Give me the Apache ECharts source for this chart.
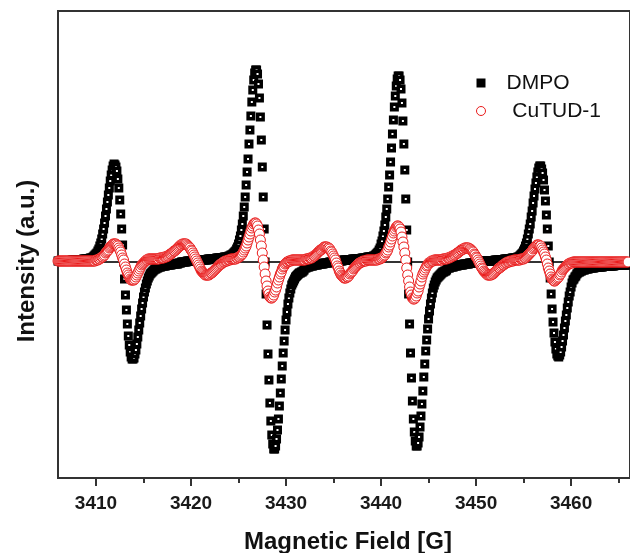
<!DOCTYPE html>
<html>
<head>
<meta charset="utf-8">
<title>EPR spectrum</title>
<script src="https://cdn.jsdelivr.net/npm/echarts@6/dist/echarts.min.js"></script>
<style>
html, body { margin: 0; padding: 0; background: #fff; }
#chart { width: 630px; height: 553px; }
</style>
</head>
<body>
<div id="chart"></div>
<script>
// field sweep starts at 3406.0 G, one reading every 0.1 G
const fieldStart = 3406.0;
const fieldStep = 0.1;

// DMPO, intensity in a.u. (one row = 1 G)
const dmpo = [
  1,1,1,1,1,1,1,1,1,1,
  1,1,1,1,1,2,2,2,2,2,
  2,2,2,2,2,2,2,3,3,3,
  3,3,3,3,4,4,4,5,6,7,
  8,9,11,13,16,19,23,28,33,39,
  46,53,60,67,74,81,87,92,96,98,
  97,95,91,83,74,62,48,33,17,0,
  -17,-33,-48,-62,-74,-83,-90,-95,-97,-97,
  -96,-92,-88,-82,-75,-68,-61,-54,-47,-41,
  -35,-30,-26,-22,-19,-16,-14,-12,-11,-10,
  -9,-8,-7,-7,-6,-6,-5,-5,-5,-4,
  -4,-4,-4,-4,-3,-3,-3,-3,-3,-3,
  -2,-2,-2,-2,-2,-2,-2,-1,-1,-1,
  0,0,0,0,0,0,1,1,1,1,
  1,1,1,1,1,1,1,1,1,1,
  2,2,2,2,2,2,2,2,3,3,
  3,3,3,3,3,3,3,4,4,4,
  4,4,4,4,4,5,5,5,5,5,
  6,6,7,7,8,9,10,11,13,15,
  18,22,26,32,38,46,55,65,77,90,
  103,118,132,146,160,172,182,189,192,192,
  188,178,164,145,122,95,65,33,0,-32,
  -63,-92,-118,-141,-159,-173,-182,-187,-187,-184,
  -177,-168,-157,-144,-131,-117,-104,-91,-79,-68,
  -58,-50,-42,-36,-31,-27,-23,-21,-19,-17,
  -15,-14,-13,-12,-11,-11,-10,-10,-9,-8,
  -6,-6,-5,-5,-5,-4,-4,-4,-4,-3,
  -3,-3,-3,-3,-2,-2,-2,-2,-2,-2,
  -1,-1,-1,-1,-1,-1,0,0,0,0,
  0,0,0,1,1,1,1,1,1,1,
  2,2,2,2,2,2,2,2,2,2,
  3,3,3,3,3,3,3,3,3,3,
  4,4,4,4,4,4,5,5,5,5,
  5,5,6,6,7,8,9,10,12,14,
  18,21,26,31,37,45,53,63,75,87,
  100,114,128,142,155,166,176,183,186,186,
  182,173,159,141,118,92,63,32,0,-32,
  -62,-91,-116,-139,-157,-170,-179,-184,-184,-181,
  -175,-165,-154,-142,-129,-115,-102,-89,-78,-67,
  -57,-49,-42,-36,-31,-26,-23,-20,-18,-16,
  -15,-14,-13,-12,-11,-10,-10,-9,-9,-8,
  -6,-6,-6,-5,-5,-5,-5,-4,-4,-4,
  -4,-3,-3,-3,-3,-3,-3,-2,-2,-2,
  -2,-2,-2,-1,-1,-1,-1,-1,-1,-1,
  0,0,0,0,0,0,0,1,1,1,
  1,1,1,1,1,1,1,1,1,1,
  2,2,2,2,2,2,2,2,2,2,
  3,3,3,3,3,3,3,3,4,4,
  4,4,4,4,5,5,6,7,8,9,
  11,13,16,19,23,28,33,38,45,51,
  59,66,73,79,85,90,94,96,96,93,
  89,82,72,61,47,33,16,0,-16,-32,
  -47,-60,-71,-80,-87,-92,-94,-95,-93,-90,
  -85,-79,-73,-66,-59,-53,-46,-40,-34,-30,
  -25,-21,-18,-17,-15,-14,-12,-11,-10,-10,
  -9,-9,-8,-8,-8,-7,-7,-7,-7,-6,
  -6,-6,-6,-6,-6,-5,-5,-5,-5,-5,
  -5,-5,-5,-5,-4,-4,-4,-4,-4,-4,
  -4,-4,-4,-4,-4,-4,-3,-3,-3,-3,
  -3,-3,-3,-3,-3,-3,-3,-3,-3,-3,
  -3
];

// CuTUD-1, same sweep
const cutud = [
  1,1,1,1,1,1,1,1,1,1,
  1,1,1,1,1,1,1,1,1,1,
  1,1,1,1,1,1,1,1,1,1,
  1,1,1,1,1,1,1,1,1,1,
  2,2,2,3,3,4,5,5,6,7,
  9,10,11,12,14,15,16,17,18,18,
  18,18,17,16,14,12,10,7,4,2,
  -2,-5,-8,-11,-13,-15,-17,-18,-18,-18,
  -18,-17,-15,-13,-11,-9,-7,-5,-3,-2,
  -1,0,1,2,2,3,3,3,3,3,
  3,3,3,3,3,3,3,4,4,4,
  4,4,5,5,5,6,6,7,8,8,
  9,10,11,11,12,13,14,15,16,17,
  17,18,18,18,18,18,17,16,15,14,
  12,11,9,7,5,3,1,-1,-3,-5,
  -7,-9,-10,-11,-12,-13,-13,-13,-13,-13,
  -12,-11,-11,-10,-9,-8,-7,-6,-5,-4,
  -3,-2,-2,-1,0,0,1,1,1,2,
  2,2,3,3,3,3,3,3,4,4,
  5,5,6,7,8,10,12,14,16,19,
  22,25,28,31,34,36,38,39,39,38,
  36,32,28,22,16,9,2,-5,-12,-19,
  -24,-29,-32,-35,-36,-36,-35,-33,-30,-28,
  -25,-21,-18,-15,-12,-10,-7,-5,-4,-2,
  -1,0,0,1,1,1,2,2,2,2,
  2,2,2,2,2,2,2,2,2,2,
  2,3,3,3,3,4,4,4,5,6,
  6,7,8,9,10,11,12,12,13,14,
  15,15,15,15,14,14,13,11,10,8,
  6,4,2,-1,-4,-6,-9,-11,-13,-14,
  -15,-16,-16,-16,-15,-15,-14,-12,-11,-10,
  -9,-7,-6,-5,-4,-3,-2,-1,-1,0,
  0,1,1,1,1,2,2,2,2,2,
  2,2,2,2,2,2,2,3,3,3,
  4,4,5,6,7,9,10,12,15,17,
  20,23,26,29,31,33,35,36,36,35,
  33,30,25,20,15,9,2,-6,-13,-19,
  -25,-30,-33,-36,-37,-37,-36,-34,-31,-29,
  -25,-22,-19,-15,-12,-10,-8,-6,-4,-3,
  -1,-1,0,1,1,1,2,2,2,2,
  2,2,2,2,2,3,3,3,3,3,
  4,4,4,5,5,6,6,7,7,8,
  9,9,10,11,12,12,13,13,14,14,
  14,14,14,13,13,12,11,10,8,7,
  5,4,2,0,-2,-4,-6,-7,-9,-10,
  -11,-12,-13,-13,-13,-13,-13,-12,-12,-11,
  -10,-9,-8,-7,-6,-6,-5,-4,-3,-3,
  -2,-1,-1,0,0,0,1,1,1,1,
  2,2,2,2,2,2,2,3,3,3,
  3,4,4,5,6,7,8,9,10,11,
  13,14,15,16,17,17,17,16,16,14,
  12,10,8,5,2,-2,-6,-9,-12,-15,
  -17,-18,-19,-19,-18,-17,-16,-15,-13,-12,
  -10,-8,-7,-6,-5,-4,-3,-2,-2,-1,
  -1,-1,0,0,0,0,0,0,0,0,
  0,0,0,0,0,0,0,0,0,0,
  0,0,0,0,0,0,0,0,0,0,
  0,0,0,0,0,0,0,0,0,0,
  0,0,0,0,0,0,0,0,0,0,
  0,0,0,0,0,0,0,0,0,0,
  0
];

const xTicks = [3410, 3420, 3430, 3440, 3450, 3460];
const xMinorTicks = [3415, 3425, 3435, 3445, 3455, 3465];

function toPoints(values) {
  return values.map((v, i) => [Math.round((fieldStart + i * fieldStep) * 10) / 10, v]);
}

const font = "'Liberation Sans', Arial, sans-serif";
const red = '#ea1b1b';

// one x axis per job: labels, major ticks, minor ticks (all share the grid)
function fieldAxis(extra) {
  return Object.assign({
    type: 'value', min: 3406, max: 3466.2, position: 'bottom',
    splitLine: { show: false },
    axisLine: { show: false },
    axisTick: { show: false },
    axisLabel: { show: false }
  }, extra);
}

const chart = echarts.init(document.getElementById('chart'));

chart.setOption({
  animation: false,
  backgroundColor: '#fff',
  grid: {
    left: 58, right: -2, top: 11, bottom: 75,
    show: true, borderColor: '#333', borderWidth: 2
  },
  xAxis: [
    fieldAxis({
      axisLine: { show: true, lineStyle: { color: '#333', width: 2 } },
      axisLabel: {
        show: true, customValues: xTicks, margin: 16, color: '#1a1a1a',
        fontFamily: font, fontSize: 19, fontWeight: 'bold',
        formatter: v => String(v)
      }
    }),
    fieldAxis({
      axisTick: { show: true, customValues: xTicks, length: 8, lineStyle: { color: '#333', width: 2 } }
    }),
    fieldAxis({
      axisTick: { show: true, customValues: xMinorTicks, length: 5, lineStyle: { color: '#333', width: 2 } }
    })
  ],
  yAxis: {
    type: 'value', min: -216, max: 251,
    axisLine: { show: false },
    axisTick: { show: false },
    axisLabel: { show: false },
    splitLine: { show: false }
  },
  legend: {
    orient: 'vertical', left: 471, top: 67,
    itemWidth: 9, itemHeight: 9, itemGap: 6,
    textStyle: { fontFamily: font, fontSize: 21, color: '#111', lineHeight: 22, padding: [0, 0, 0, 16] },
    formatter: n => (n === 'CuTUD-1' ? ' ' + n : n),
    data: [
      { name: 'DMPO', icon: 'rect', itemStyle: { color: '#000', borderWidth: 0 } },
      { name: 'CuTUD-1', icon: 'circle', itemStyle: { color: '#fff', borderColor: red, borderWidth: 1 } }
    ]
  },
  graphic: [
    {
      type: 'text', x: 348, y: 542,
      style: { text: 'Magnetic Field [G]', fontFamily: font, fontSize: 24, fontWeight: 'bold', fill: '#111', align: 'center', verticalAlign: 'middle' }
    },
    {
      type: 'text', x: 27, y: 261, rotation: Math.PI / 2,
      style: { text: 'Intensity (a.u.)', fontFamily: font, fontSize: 24, fontWeight: 'bold', fill: '#111', align: 'center', verticalAlign: 'middle' }
    }
  ],
  series: [
    {
      name: 'DMPO', type: 'scatter', data: toPoints(dmpo),
      symbol: 'rect', symbolSize: 5.5,
      itemStyle: { color: '#fff', borderColor: '#000', borderWidth: 3.5, opacity: 1 },
      emphasis: { disabled: true }
    },
    {
      name: 'CuTUD-1', type: 'scatter', data: toPoints(cutud),
      symbol: 'circle', symbolSize: 10,
      itemStyle: { color: '#fff', borderColor: red, borderWidth: 1, opacity: 1 },
      emphasis: { disabled: true }
    }
  ]
});
</script>
</body>
</html>
